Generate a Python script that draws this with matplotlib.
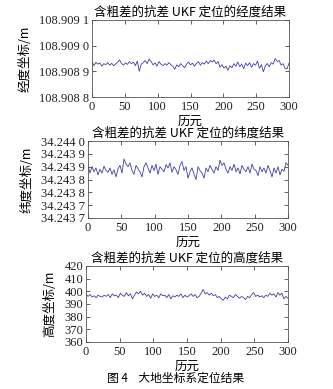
import numpy as np
import matplotlib
matplotlib.use('Agg')
import matplotlib.pyplot as plt

# Datos (un punto cada 3 épocas)
epochs = np.arange(0, 301, 3)

# Longitud: desviación respecto a 108.9089, en 1e-6 grados
lon_dev = [38, 22, 35, 28, 33, 20, 30, 26, 34, 24,
           31, 22, 28, 36, 45, 30, 24, 33, 27, 38,
           30, 36, 22, 40, 0, 28, 34, 42, 30, 48,
           38, 25, 33, 20, 38, 28, 22, 30, 24, 34,
           26, 20, 8, 25, 18, 30, 22, 14, 28, 36,
           25, 32, 20, 30, 38, 24, 34, 28, 40, 30,
           42, 36, 44, 30, 38, 16, 26, 12, 20, 4,
           22, 14, 30, 20, 36, 18, 28, 10, 32, 22,
           34, 16, 30, 24, 40, 12, 26, -2, 22, 30,
           18, 34, 28, 50, 38, 42, 24, 30, 12, 10,
           32]

# Latitud: desviación respecto a 34.2437, en 1e-6 grados
lat_dev = [205, 175, 200, 180, 195, 168, 190, 175, 202, 185,
           178, 195, 170, 188, 160, 192, 205, 175, 230, 210,
           200, 215, 185, 170, 205, 192, 180, 160, 200, 215,
           195, 175, 205, 185, 210, 170, 200, 190, 180, 208,
           195, 215, 178, 200, 188, 170, 205, 220, 185, 200,
           155, 180, 195, 170, 150, 200, 185, 175, 155, 195,
           180, 205, 190, 175, 200, 185, 225, 205, 215, 190,
           175, 200, 185, 210, 180, 195, 172, 205, 190, 180,
           200, 175, 210, 190, 185, 165, 200, 180, 195, 175,
           205, 185, 160, 195, 175, 200, 168, 190, 182, 215,
           205]

# Altura en metros
height = [398, 396, 397.5, 395.5, 396.5, 395, 397, 396, 395.5, 397,
          396, 397.5, 395, 398, 396.5, 397, 395, 398.5, 397, 396,
          399, 396.5, 398, 394, 397, 399.5, 398, 400, 397, 398.5,
          396, 397.5, 394.5, 398, 396, 397, 395, 398, 396.5, 397,
          395, 397.5, 394, 396.5, 395.5, 397, 396, 398, 395, 397,
          395.5, 396.5, 398, 396, 397.5, 395, 396, 398.5, 401.5, 398,
          399, 397, 398.5, 396.5, 397.5, 395, 396, 394, 393, 395.5,
          394, 397, 396, 395, 397.5, 396, 394.5, 396, 395, 393.5,
          396, 395, 397.5, 399, 396, 397, 395.5, 396.5, 395, 397,
          396, 398.5, 397, 398, 395.5, 399, 397, 398.5, 394, 396,
          394.5]

lon = 108.9089 + np.array(lon_dev) * 1e-6
lat = 34.2437 + np.array(lat_dev) * 1e-6

lon_ticks = [108.9088, 108.9089, 108.9090, 108.9091]
lon_labels = ['108.908 8', '108.908 9', '108.909 0', '108.909 1']
lat_ticks = [34.24370, 34.24375, 34.24380, 34.24385, 34.24390, 34.24395, 34.24400]
lat_labels = ['34.243 7', '34.243 7', '34.243 8', '34.243 8', '34.243 9', '34.243 9', '34.244 0']
h_ticks = [360, 370, 380, 390, 400, 410, 420]
x_ticks = [0, 50, 100, 150, 200, 250, 300]

titles = ['含粗差的抗差 UKF 定位的经度结果',
          '含粗差的抗差 UKF 定位的纬度结果',
          '含粗差的抗差 UKF 定位的高度结果']
ylabels = ['经度坐标/m', '纬度坐标/m', '高度坐标/m']

W, H = 333, 389
cjk = ['Noto Sans CJK SC', 'DejaVu Sans']
serif = 'Liberation Serif'
line_color = '#40409e'

fig = plt.figure(figsize=(W / 100, H / 100), dpi=100)


def pix_axes(x0, x1, y0, y1):
    return fig.add_axes([x0 / W, 1 - y1 / H, (x1 - x0) / W, (y1 - y0) / H])


axes = [pix_axes(92, 289, 20, 97),
        pix_axes(88, 288, 141, 218),
        pix_axes(86, 288, 266, 342)]

series = [lon, lat, height]
yt = [lon_ticks, lat_ticks, h_ticks]
yl = [lon_labels, lat_labels, [str(v) for v in h_ticks]]
ylims = [(108.9088, 108.9091), (34.2437, 34.2440), (360, 420)]
ylab_x = [25, 27, 50]

for i, ax in enumerate(axes):
    ax.plot(epochs, series[i], color=line_color, linewidth=0.6)
    ax.set_xlim(0, 300)
    ax.set_ylim(*ylims[i])
    ax.set_xticks(x_ticks)
    ax.set_xticklabels([str(v) for v in x_ticks], fontfamily=serif, fontsize=9)
    ax.set_yticks(yt[i])
    ax.set_yticklabels(yl[i], fontfamily=serif, fontsize=9)
    ax.tick_params(direction='in', top=True, right=True, length=3,
                   width=0.5, colors='#222222')
    ax.tick_params(axis='x', pad=3)
    ax.tick_params(axis='y', pad=2)
    for s in ax.spines.values():
        s.set_linewidth(0.6)
        s.set_color('#555555')
    ax.set_title(titles[i], fontfamily=cjk, fontsize=9, pad=3)
    ax.set_xlabel('历元', fontfamily=cjk, fontsize=9, labelpad=1)
    bb = ax.get_position()
    fig.text(ylab_x[i] / W, bb.y0 + bb.height / 2, ylabels[i],
             rotation=90, ha='center', va='center',
             fontfamily=cjk, fontsize=9)

fig.text(176 / W, 1 - 378 / H, '图 4    大地坐标系定位结果',
         ha='center', va='center', fontfamily=cjk, fontsize=8.5)

fig.savefig('out.png', dpi=100)
